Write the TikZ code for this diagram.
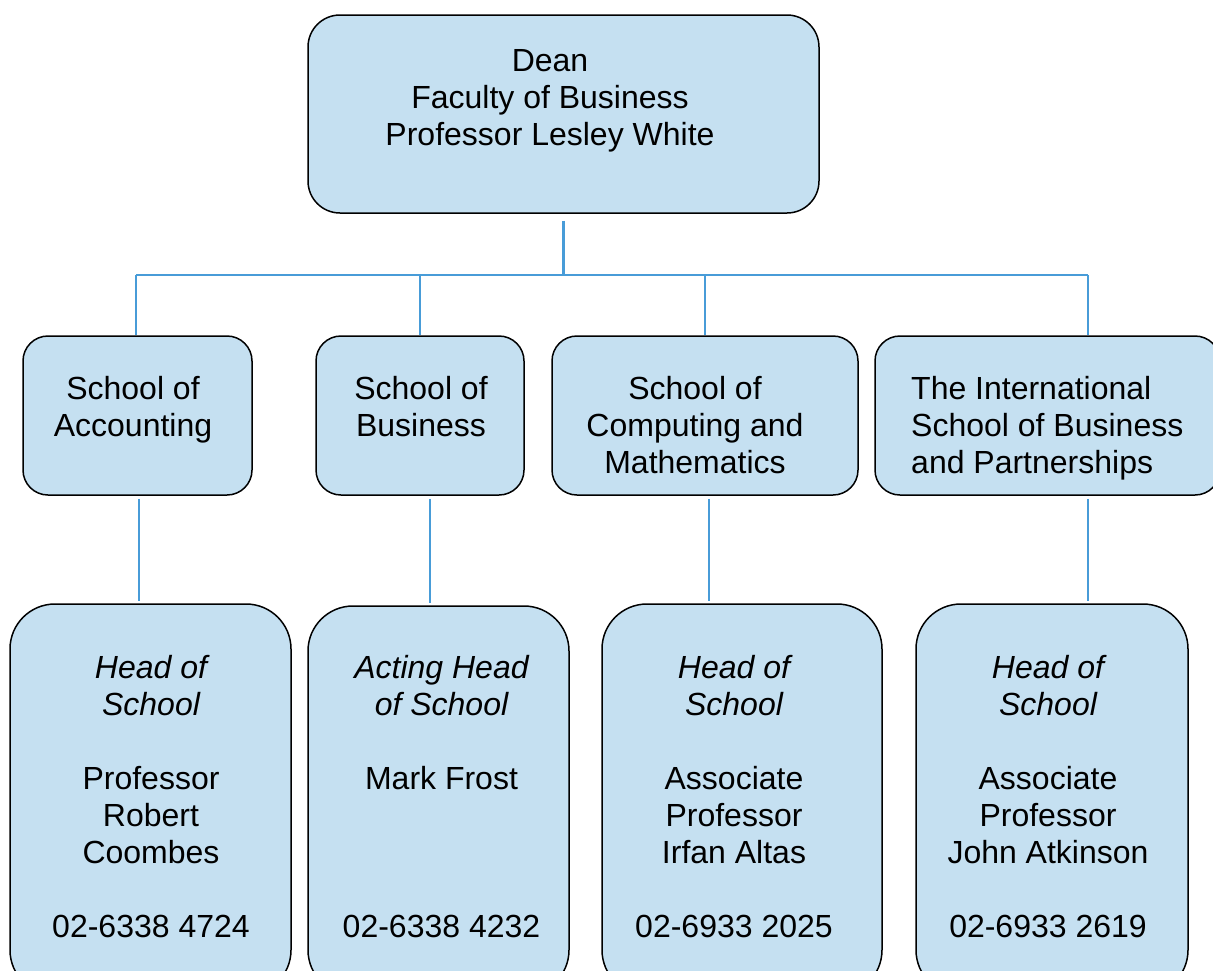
\documentclass[tikz,border=0pt]{standalone}
\usepackage{fontspec}
\setmainfont{Liberation Sans}
\usepackage{tikz}
\definecolor{boxblue}{RGB}{197,224,241}
\definecolor{linkblue}{RGB}{72,156,216}
\tikzset{
  orgbox/.style={draw=black,line width=1.5pt,fill=boxblue,inner sep=0pt},
  orgtext/.style={anchor=north,inner sep=0pt,align=center,font=\fontsize{32}{37}\selectfont},
  orglink/.style={draw=linkblue,line width=2.3pt}
}

\begin{document}
\begin{tikzpicture}[x=1pt,y=-1pt]
\useasboundingbox (0,0) rectangle (1213,970);
\clip (0,0) rectangle (1213,970);
\coordinate (barL) at (136,275);
\coordinate (barR) at (1088,275);
\coordinate (accX) at (139,0);
\coordinate (busX) at (430,0);
\coordinate (compX) at (709,0);
\coordinate (intlX) at (1088,0);
% boxes
\node[orgbox,rounded corners=32pt,minimum width=511pt,minimum height=198pt] (dean) at (563.5,114) {};
\node[orgbox,rounded corners=25pt,minimum width=229pt,minimum height=159pt] (acc) at (137.5,415.5) {};
\node[orgbox,rounded corners=25pt,minimum width=208pt,minimum height=159pt] (bus) at (420,415.5) {};
\node[orgbox,rounded corners=25pt,minimum width=306pt,minimum height=159pt] (comp) at (705,415.5) {};
\node[orgbox,rounded corners=25pt,minimum width=345pt,minimum height=159pt] (intl) at (1047.5,415.5) {};
\node[orgbox,rounded corners=45pt,minimum width=281pt,minimum height=391pt] (hd1) at (150.5,799.5) {};
\node[orgbox,rounded corners=45pt,minimum width=261pt,minimum height=389pt] (hd2) at (438.5,800.5) {};
\node[orgbox,rounded corners=45pt,minimum width=280pt,minimum height=391pt] (hd3) at (742,799.5) {};
\node[orgbox,rounded corners=45pt,minimum width=272pt,minimum height=391pt] (hd4) at (1052,799.5) {};
% texts
\node[orgtext] (deanT) at (550,49) {Dean\\Faculty of Business\\Professor Lesley White};
\node[orgtext] (accT) at (133,376) {School of\\Accounting};
\node[orgtext] (busT) at (421,376) {School of\\Business};
\node[orgtext] (compT) at (695,376) {School of\\Computing and\\Mathematics};
\node[orgtext,anchor=north west,align=left] (intlT) at (911,376) {The International\\School of Business\\and Partnerships};
\node[orgtext] (hd1T) at (151,655) {\itshape Head of\\\itshape School\\[37pt]Professor\\Robert\\Coombes\\[37pt]02-6338 4724};
\node[orgtext] (hd2T) at (441.5,655) {\itshape Acting Head\\\itshape of School\\[37pt]Mark Frost\\[111pt]02-6338 4232};
\node[orgtext] (hd3T) at (734,655) {\itshape Head of\\\itshape School\\[37pt]Associate\\Professor\\Irfan Altas\\[37pt]02-6933 2025};
\node[orgtext] (hd4T) at (1048,655) {\itshape Head of\\\itshape School\\[37pt]Associate\\Professor\\John Atkinson\\[37pt]02-6933 2619};
% links
\draw[orglink] ([yshift=-7pt]dean.south) -- (dean.south |- barL);
\draw[orglink] (barL) -- (barR);
\draw[orglink] (barL) -- (barL |- acc.north);
\draw[orglink] (bus.north |- barL) -- (bus.north);
\draw[orglink] (comp.north |- barL) -- (comp.north);
\draw[orglink] (barR) -- (barR |- intl.north);
\draw[orglink,shorten <=3pt,shorten >=2pt] (acc.south -| accX) -- (hd1.north -| accX);
\draw[orglink,shorten <=3pt,shorten >=2pt] (bus.south -| busX) -- (hd2.north -| busX);
\draw[orglink,shorten <=3pt,shorten >=2pt] (comp.south -| compX) -- (hd3.north -| compX);
\draw[orglink,shorten <=3pt,shorten >=2pt] (intl.south -| intlX) -- (hd4.north -| intlX);
\end{tikzpicture}
\end{document}
